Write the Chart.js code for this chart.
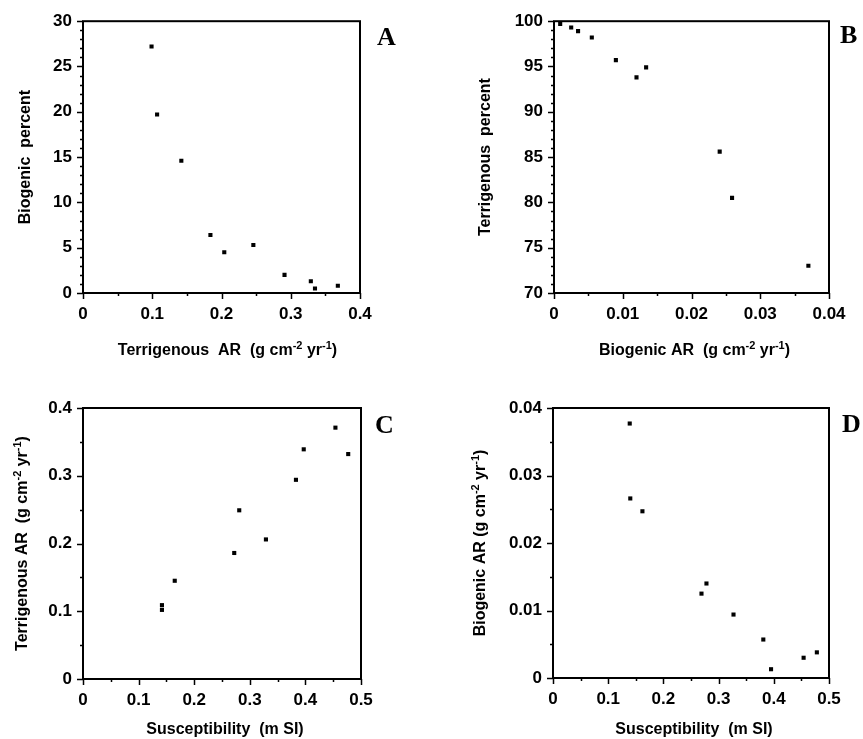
<!DOCTYPE html>
<html>
<head>
<meta charset="utf-8">
<script src="https://cdn.jsdelivr.net/npm/chart.js@4.4.0/dist/chart.umd.min.js"></script>
<style>
html,body{margin:0;padding:0;background:#fff;}
#wrap{position:relative;width:863px;height:739px;overflow:hidden;background:#fff;}
#wrap canvas{position:absolute;}
</style>
</head>
<body>
<div id="wrap">
<canvas id="chartA" width="431" height="369" style="left:0;top:0"></canvas>
<canvas id="chartB" width="432" height="369" style="left:431px;top:0"></canvas>
<canvas id="chartC" width="431" height="370" style="left:0;top:369px"></canvas>
<canvas id="chartD" width="432" height="370" style="left:431px;top:369px"></canvas>
</div>
<script>
// values

// A: terrigenous AR vs biogenic percent
const terrAR_A = [0.099, 0.107, 0.142, 0.184, 0.204, 0.246, 0.291, 0.329, 0.335, 0.368];
const biogenicPct = [27.2, 19.7, 14.6, 6.4, 4.5, 5.3, 2.0, 1.3, 0.5, 0.8];

// B: biogenic AR vs terrigenous percent
const biogenicAR_B = [0.0009, 0.0025, 0.0035, 0.0055, 0.0090, 0.0120, 0.0134, 0.0241, 0.0259, 0.0370];
const terrPct = [99.7, 99.3, 98.9, 98.2, 95.7, 93.8, 94.9, 85.6, 80.5, 73.0];

// C: susceptibility vs terrigenous AR
const suscC = [0.142, 0.142, 0.165, 0.272, 0.281, 0.329, 0.383, 0.397, 0.454, 0.477];
const terrAR_C = [0.102, 0.109, 0.145, 0.186, 0.249, 0.206, 0.294, 0.339, 0.371, 0.332];

// D: susceptibility vs biogenic AR
const suscD = [0.139, 0.140, 0.162, 0.269, 0.278, 0.327, 0.381, 0.395, 0.454, 0.478];
const biogenicAR_D = [0.0377, 0.0266, 0.0247, 0.0125, 0.0140, 0.0094, 0.0057, 0.0013, 0.0030, 0.0038];

// axis ranges: [min, max, major step, minor step]
const xAxisA = [0, 0.4, 0.1, 0.05];
const yAxisA = [0, 30, 5, 1];
const xAxisB = [0, 0.04, 0.01, 0.005];
const yAxisB = [70, 100, 5, 1];
const xAxisC = [0, 0.5, 0.1, 0.05];
const yAxisC = [0, 0.4, 0.1, 0.05];
const xAxisD = [0, 0.5, 0.1, 0.05];
const yAxisD = [0, 0.04, 0.01, 0.005];

// titles, as [text, superscript?] pieces
const arUnits = [['(g cm',0],['-2',1],[' yr',0],['-1',1],[')',0]];
const xTitleA = [['Terrigenous  AR  ',0]].concat(arUnits);
const yTitleA = [['Biogenic  percent',0]];
const xTitleB = [['Biogenic AR  ',0]].concat(arUnits);
const yTitleB = [['Terrigenous  percent',0]];
const xTitleC = [['Susceptibility  (m SI)',0]];
const yTitleC = [['Terrigenous AR  ',0]].concat(arUnits);
const xTitleD = [['Susceptibility  (m SI)',0]];
const yTitleD = [['Biogenic AR ',0]].concat(arUnits);

const SANS = '"Liberation Sans", Arial, sans-serif';

function toPoints(xs, ys){ return xs.map((x,i)=>({x:x, y:ys[i]})); }

function drawPieces(ctx, pieces, cx, base){
  const big = 'bold 16px ' + SANS, small = 'bold 11px ' + SANS;
  let w = 0;
  pieces.forEach(p=>{ ctx.font = p[1]?small:big; w += ctx.measureText(p[0]).width; });
  let x = cx - w/2;
  ctx.textAlign = 'left'; ctx.textBaseline = 'alphabetic';
  pieces.forEach(p=>{
    ctx.font = p[1]?small:big;
    ctx.fillText(p[0], x, p[1] ? base-6 : base);
    x += ctx.measureText(p[0]).width;
  });
}

// frame, minor ticks, axis titles and panel letter
const framePlugin = {
  id:'frame',
  afterDraw(chart, args, o){
    const ctx = chart.ctx, a = chart.chartArea;
    const xs = chart.scales.x, ys = chart.scales.y;
    ctx.save();
    ctx.strokeStyle = '#000'; ctx.fillStyle = '#000'; ctx.lineWidth = 2;
    ctx.strokeRect(a.left, a.top, a.right-a.left, a.bottom-a.top);
    ctx.lineWidth = 1.5;
    ctx.beginPath();
    const isMajor = (v, step)=> Math.abs(v/step - Math.round(v/step)) < 1e-6;
    let n = Math.round((o.xr[1]-o.xr[0])/o.xr[3]);
    for (let i=0;i<=n;i++){ const v = o.xr[0]+i*o.xr[3]; const px = Math.round(xs.getPixelForValue(v))+0.5;
      const len = isMajor(v-o.xr[0], o.xr[2]) ? 6 : 3; ctx.moveTo(px, a.bottom); ctx.lineTo(px, a.bottom+len); }
    n = Math.round((o.yr[1]-o.yr[0])/o.yr[3]);
    for (let i=0;i<=n;i++){ const v = o.yr[0]+i*o.yr[3]; const py = Math.round(ys.getPixelForValue(v))+0.5;
      const len = isMajor(v-o.yr[0], o.yr[2]) ? 6 : 3; ctx.moveTo(a.left, py); ctx.lineTo(a.left-len, py); }
    ctx.stroke();
    // x title
    drawPieces(ctx, o.xTitle, (a.left+a.right)/2 + o.xShift, o.xBase);
    // y title, rotated
    ctx.save();
    ctx.translate(o.yBase, (a.top+a.bottom)/2);
    ctx.rotate(-Math.PI/2);
    drawPieces(ctx, o.yTitle, 0, 0);
    ctx.restore();
    // panel letter
    ctx.font = 'bold 26px "Liberation Serif", "Times New Roman", serif';
    ctx.textAlign = 'left'; ctx.textBaseline = 'alphabetic';
    ctx.fillText(o.letter, o.lx, o.ly);
    ctx.restore();
  }
};

function makePanel(id, xs, ys, xr, yr, box, extra){
  const cv = document.getElementById(id);
  const W = cv.width, H = cv.height;
  const xh = 40;
  return new Chart(cv, {
    type:'scatter',
    data:{ datasets:[{ data: toPoints(xs, ys), pointStyle:'rect', pointRadius:2.9, pointHoverRadius:2.9,
      backgroundColor:'#000', borderColor:'#000', borderWidth:0 }] },
    options:{
      responsive:false, animation:false, events:[],
      layout:{ padding:{ left:0, top:box.top, right:W-box.right, bottom:H-box.bottom-xh } },
      plugins:{ legend:{display:false}, tooltip:{enabled:false},
        frame: Object.assign({ xr:xr, yr:yr }, extra) },
      scales:{
        x:{ type:'linear', min:xr[0], max:xr[1],
          grid:{display:false, drawTicks:false}, border:{display:false},
          ticks:{ stepSize:xr[2], color:'#000', padding:11, maxRotation:0, font:{family:SANS, size:17, weight:'bold'} },
          afterFit(s){ s.height = xh; } },
        y:{ type:'linear', min:yr[0], max:yr[1],
          grid:{display:false, drawTicks:false}, border:{display:false},
          ticks:{ stepSize:yr[2], color:'#000', padding:11, font:{family:SANS, size:17, weight:'bold'} },
          afterFit(s){ s.width = box.left; } }
      }
    },
    plugins:[framePlugin]
  });
}

makePanel('chartA', terrAR_A, biogenicPct, xAxisA, yAxisA, {left:83, top:19, right:360, bottom:293},
  {xTitle:xTitleA, yTitle:yTitleA, xShift:6, xBase:355, yBase:30, letter:'A', lx:377, ly:45});
makePanel('chartB', biogenicAR_B, terrPct, xAxisB, yAxisB, {left:123, top:19, right:398, bottom:293},
  {xTitle:xTitleB, yTitle:yTitleB, xShift:3, xBase:355, yBase:59, letter:'B', lx:409, ly:43});
makePanel('chartC', suscC, terrAR_C, xAxisC, yAxisC, {left:83, top:39, right:361, bottom:310},
  {xTitle:xTitleC, yTitle:yTitleC, xShift:3, xBase:365, yBase:27, letter:'C', lx:375, ly:64});
makePanel('chartD', suscD, biogenicAR_D, xAxisD, yAxisD, {left:122, top:39, right:398, bottom:309},
  {xTitle:xTitleD, yTitle:yTitleD, xShift:3, xBase:365, yBase:54, letter:'D', lx:411, ly:63});
</script>
</body>
</html>
